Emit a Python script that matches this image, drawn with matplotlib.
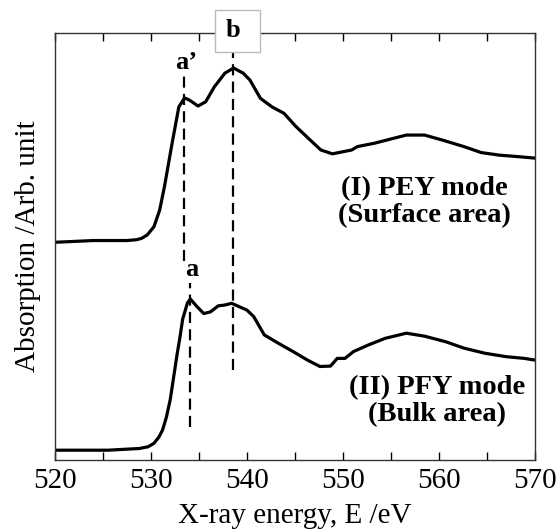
import numpy as np
import matplotlib
matplotlib.use("Agg")
import matplotlib.pyplot as plt
import matplotlib.transforms as mtransforms
from matplotlib.patches import Rectangle

plt.rcParams['font.family'] = ['Liberation Serif', 'DejaVu Serif']

# PEY (surface) spectrum (arb. units, offset)
pey_energy = [520.1, 524.0, 527.5, 528.5, 529.0, 529.6, 530.3, 530.9, 531.4, 532.2,
              532.9, 533.5, 534.0, 534.9, 535.7, 536.6, 537.7, 538.6, 539.6, 540.3,
              541.4, 542.6, 543.85, 545.1, 546.6, 547.7, 548.9, 550.0, 550.9, 551.5,
              553.3, 555.2, 556.6, 558.5, 560.4, 562.6, 564.4, 566.3, 568.5, 570.0]
pey_absorption = [0.510, 0.514, 0.514, 0.516, 0.519, 0.527, 0.546, 0.585, 0.640, 0.742,
                  0.827, 0.848, 0.843, 0.829, 0.839, 0.874, 0.906, 0.918, 0.906, 0.890,
                  0.847, 0.827, 0.812, 0.781, 0.749, 0.726, 0.717, 0.722, 0.726, 0.734,
                  0.742, 0.753, 0.761, 0.761, 0.749, 0.734, 0.720, 0.714, 0.710, 0.707]

# PFY (bulk) spectrum
pfy_energy = [520.1, 525.5, 528.8, 529.7, 530.3, 530.8, 531.2, 531.6, 532.0, 532.4,
              532.7, 533.0, 533.3, 533.8, 534.1, 534.8, 535.5, 536.2, 537.0, 537.7,
              538.4, 539.2, 540.0, 540.7, 541.8, 543.3, 544.8, 546.3, 547.6, 548.7,
              549.4, 550.2, 551.1, 552.6, 554.4, 556.6, 558.5, 560.7, 562.6, 564.8,
              567.0, 568.9, 570.0]
pfy_absorption = [0.023, 0.023, 0.027, 0.031, 0.039, 0.053, 0.070, 0.100, 0.141, 0.200,
                  0.245, 0.285, 0.330, 0.368, 0.377, 0.359, 0.343, 0.347, 0.361, 0.363,
                  0.367, 0.359, 0.351, 0.336, 0.293, 0.273, 0.254, 0.234, 0.219, 0.220,
                  0.238, 0.238, 0.254, 0.269, 0.285, 0.297, 0.290, 0.277, 0.262, 0.250,
                  0.242, 0.238, 0.234]

# peak positions (eV)
peak_a_prime = 533.4
peak_a = 534.05
peak_b = 538.5

fig = plt.figure(figsize=(5.59, 5.29), dpi=100)
ax = fig.add_axes([0.0984, 0.1304, 0.8586, 0.8072])

ax.plot(pey_energy, pey_absorption, color='black', lw=2.3, solid_joinstyle='round')
ax.plot(pfy_energy, pfy_absorption, color='black', lw=2.3, solid_joinstyle='round')

dash = (0, (5, 2.8))
ax.plot([peak_a_prime, peak_a_prime], [0.465, 0.90], color='black', lw=1.6, ls=dash)
ax.plot([peak_a, peak_a], [0.078, 0.415], color='black', lw=1.6, ls=dash)
ax.plot([peak_b, peak_b], [0.21, 0.955], color='black', lw=1.6, ls=dash)

ax.text(peak_a_prime + 0.3, 0.905, 'a\u2019', fontsize=19, fontweight='bold',
        ha='center', va='bottom')
ax.text(peak_a + 0.15, 0.42, 'a', fontsize=19, fontweight='bold',
        ha='center', va='bottom')

# boxed "b" label sitting on the top spine
trans = mtransforms.blended_transform_factory(ax.transData, ax.transAxes)
ax.add_patch(Rectangle((536.7, 0.956), 4.7, 0.098, transform=trans, clip_on=False,
                       fc='white', ec='#bbbbbb', lw=1, zorder=4))
ax.text(peak_b, 1.005, 'b', fontsize=19, fontweight='bold', ha='center', va='center',
        transform=trans, clip_on=False, zorder=5)

ax.text(558.5, 0.605, '(I) PEY mode\n(Surface area)', fontsize=20.5, fontweight='bold',
        ha='center', va='center', linespacing=1.1)
ax.text(559.8, 0.138, '(II) PFY mode\n(Bulk area)', fontsize=20.5, fontweight='bold',
        ha='center', va='center', linespacing=1.1)

ax.set_xlim(520, 570)
ax.set_ylim(0, 1)
ax.set_xticks(np.arange(520, 571, 10))
ax.set_xticks(np.arange(525, 570, 10), minor=True)
ax.set_yticks([])
ax.tick_params(axis='x', which='both', direction='in', top=True, length=6, width=1,
               labelsize=21, pad=6)
for s in ax.spines.values():
    s.set_linewidth(1)
    s.set_color('#333333')

ax.set_xlabel('X-ray energy, E /eV', fontsize=21, labelpad=6)
ax.set_ylabel('Absorption /Arb. unit', fontsize=21, labelpad=10)

fig.savefig('out.png', dpi=100)
